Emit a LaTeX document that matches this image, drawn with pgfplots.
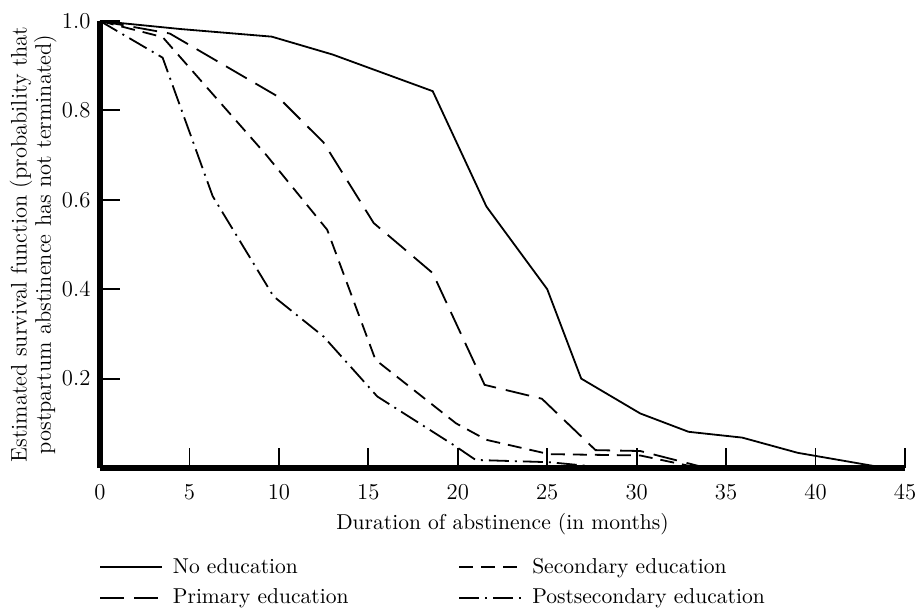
\documentclass[border=0pt]{standalone}
\usepackage{fontspec}
\usepackage{pgfplots}
\pgfplotsset{compat=1.18}
\begin{document}
\fontsize{10.8}{13}\selectfont
\begin{tikzpicture}
\begin{axis}[
  at={(0,0)}, anchor=origin,
  scale only axis, width=402.5bp, height=223.5bp,
  xmin=0, xmax=45, ymin=0, ymax=1,
  axis x line=bottom, axis y line=left,
  axis line style={line width=3bp, -},
  axis on top, clip=false,
  xtick={0,5,...,45}, ytick={0.2,0.4,0.6,0.8,1.0},
  tick align=inside, major tick length=10bp,
  tick style={line width=0.9bp, black},
  /pgf/number format/assume math mode=true,
  ticklabel style={font=\fontsize{11.4}{13}\selectfont},
  yticklabel style={/pgf/number format/fixed, /pgf/number format/fixed zerofill, /pgf/number format/precision=1, xshift=-1bp},
  xticklabel style={yshift=-4.5bp},
  xlabel={Duration of abstinence (in months)},
  xlabel style={at={(axis description cs:0.5,0)}, anchor=center, yshift=-28bp},
  ylabel={Estimated survival function (probability that\\postpartum abstinence has not terminated)},
  ylabel style={align=center, at={(axis description cs:-0.083,0.5)}, anchor=center, font=\fontsize{11.3}{12.2}\selectfont},
  legend columns=2,
  legend cell align=left,
  legend style={draw=none, fill=none, at={(-0.009,-0.183)}, anchor=north west,
    row sep=2bp, /tikz/column 2/.style={column sep=53bp}},
  legend image code/.code={\draw[#1] (0bp,0bp) -- (31bp,0bp); \path (34bp,0bp);},
  every axis plot/.append style={line width=0.9bp, black},
]
\addplot[solid] coordinates {(0,1.0) (4.5,0.982) (9.6,0.965) (13,0.925) (18.6,0.843) (21.6,0.585) (25,0.40) (26.9,0.20) (30.2,0.122) (32.9,0.081) (35.9,0.068) (39,0.034) (43.9,0)};
\addlegendentry{No education}
\addplot[dash pattern=on 7bp off 4bp] coordinates {(0,1) (3.5,0.964) (9.3,0.70) (12.7,0.533) (15.4,0.242) (19.9,0.10) (21.6,0.063) (25.1,0.031) (30.2,0.028) (33.5,0)};
\addlegendentry{Secondary education}
\addplot[dash pattern=on 12bp off 5bp] coordinates {(0,1) (3.9,0.972) (9.9,0.832) (12.5,0.728) (15.3,0.548) (18.6,0.436) (21.5,0.186) (24.7,0.155) (27.7,0.04) (30.2,0.038) (33.9,0)};
\addlegendentry{Primary education}
\addplot[dash pattern=on 10bp off 3bp on 1bp off 3bp] coordinates {(0,1) (3.5,0.918) (6.3,0.608) (9.7,0.384) (12.5,0.294) (15.5,0.16) (19.9,0.048) (21,0.018) (25.1,0.013) (28.5,0)};
\addlegendentry{Postsecondary education}
\end{axis}
\pgfresetboundingbox
\path (-50bp,-70bp) rectangle (408bp,234bp);
\end{tikzpicture}
\end{document}
